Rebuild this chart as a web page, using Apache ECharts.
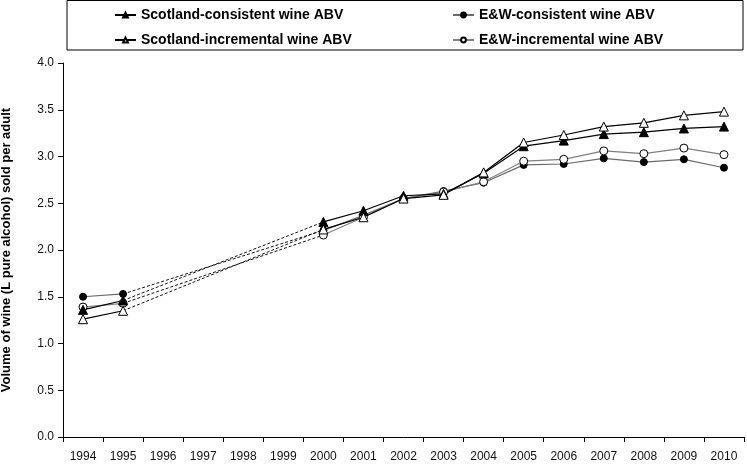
<!DOCTYPE html>
<html><head><meta charset="utf-8">
<script src="https://cdn.jsdelivr.net/npm/echarts@6/dist/echarts.min.js"></script>
<style>html,body{margin:0;padding:0;background:#fff}#c{width:747px;height:465px}</style>
</head><body><div id="c"></div>
<script>
var years = ['1994','1995','1996','1997','1998','1999','2000','2001','2002','2003','2004','2005','2006','2007','2008','2009','2010'];
var scotCons = [1.36, 1.46, null, null, null, null, 2.30, 2.42, 2.58, 2.60, 2.82, 3.11, 3.17, 3.24, 3.26, 3.30, 3.32];
var ewCons   = [1.50, 1.53, null, null, null, null, 2.21, 2.37, 2.55, 2.63, 2.72, 2.91, 2.92, 2.98, 2.94, 2.97, 2.88];
var scotIncr = [1.26, 1.35, null, null, null, null, 2.22, 2.35, 2.55, 2.59, 2.83, 3.15, 3.23, 3.32, 3.36, 3.44, 3.48];
var ewIncr   = [1.39, 1.43, null, null, null, null, 2.16, 2.35, 2.55, 2.62, 2.73, 2.95, 2.97, 3.06, 3.03, 3.09, 3.02];
var names = ['Scotland-consistent wine ABV','E&W-consistent wine ABV','Scotland-incremental wine ABV','E&W-incremental wine ABV'];
var yTicks = ['0.0','0.5','1.0','1.5','2.0','2.5','3.0','3.5','4.0'];

function bridge(arr){ return years.map(function(y,i){ return (y==='1995'||y==='2000') ? arr[i] : null; }); }
var font = 'Liberation Sans, Arial, sans-serif';
var chart = echarts.init(document.getElementById('c'), null, {renderer:'canvas'});
function mainSeries(name, data, symbol, filled, lineColor, size){
  return {name:name, type:'line', data:data, symbol:symbol, symbolSize:size, connectNulls:false,
    showAllSymbol:true, z:3,
    lineStyle:{color:lineColor, width:1.2},
    itemStyle:{color: filled ? '#000' : '#fff', borderColor:'#000', borderWidth:1},
    emphasis:{disabled:true}, animation:false};
}
function dashSeries(data){
  return {name:'_bridge', type:'line', data:bridge(data), symbol:'none', connectNulls:true, z:2,
    lineStyle:{color:'#111', width:1, type:[3,2]}, emphasis:{disabled:true}, animation:false, silent:true};
}
var legendCommon = {orient:'vertical', itemWidth:21, itemHeight:6, itemGap:11, padding:0,
  textStyle:{fontFamily:font, fontSize:14, fontWeight:'bold', color:'#000'}, selectedMode:false};
chart.setOption({
  animation:false,
  backgroundColor:'#fff',
  grid:{left:63, right:3, top:63, bottom:28, containLabel:false, outerBoundsMode:'none'},
  graphic:[{type:'rect', shape:{x:67, y:0.5, width:676, height:49.5}, style:{fill:'none', stroke:'#000', lineWidth:1}, z:0}],
  legend:[
    Object.assign({left:114, top:8, data:[names[0], names[2]]}, legendCommon),
    Object.assign({left:452, top:8, data:[names[1], names[3]]}, legendCommon)
  ],
  xAxis:{type:'category', data:years, boundaryGap:true,
    axisLine:{lineStyle:{color:'#000', width:1}},
    axisTick:{show:true, length:5, lineStyle:{color:'#000'}},
    axisLabel:{color:'#111', fontFamily:font, fontSize:12, margin:14, interval:0},
    splitLine:{show:false}},
  yAxis:{type:'value', min:0, max:4, interval:0.5,
    name:'Volume of wine (L pure alcohol) sold per adult', nameLocation:'middle', nameGap:50,
    nameTextStyle:{fontFamily:font, fontSize:13, fontWeight:'bold', color:'#000'},
    axisLine:{show:true, lineStyle:{color:'#000', width:1}},
    axisTick:{show:true, length:5, lineStyle:{color:'#000'}},
    axisLabel:{color:'#111', fontFamily:font, fontSize:12, margin:9,
      formatter:function(v){ return yTicks[Math.round(v*2)]; }},
    splitLine:{show:false}},
  series:[
    dashSeries(scotCons), dashSeries(ewCons), dashSeries(scotIncr), dashSeries(ewIncr),
    mainSeries(names[1], ewCons, 'circle', true, '#6a6a6a', 7),
    mainSeries(names[3], ewIncr, 'circle', false, '#808080', 8),
    mainSeries(names[0], scotCons, 'triangle', true, '#000', 9),
    mainSeries(names[2], scotIncr, 'triangle', false, '#000', 9)
  ]
});
</script></body></html>
